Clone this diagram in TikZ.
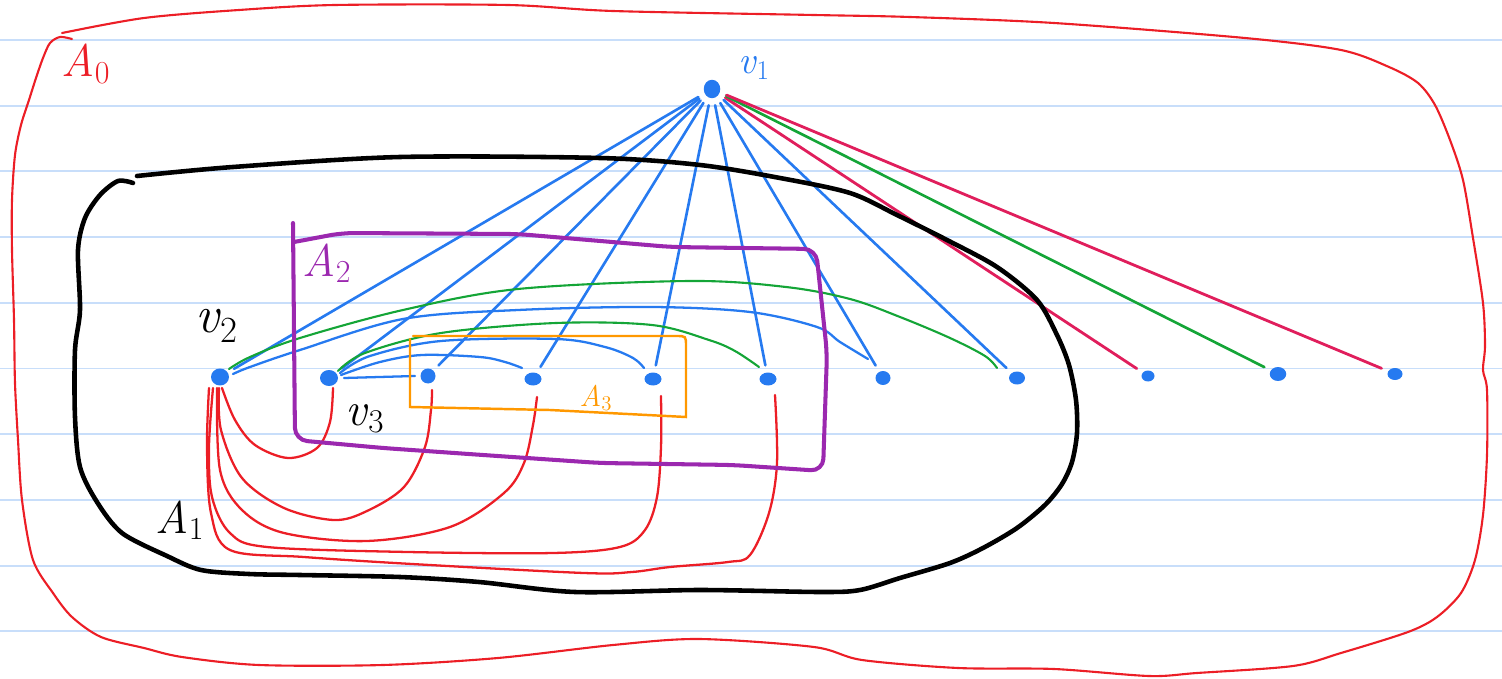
\documentclass[tikz,border=0pt]{standalone}
\usetikzlibrary{shapes.geometric}
\definecolor{ruleblue}{RGB}{200,222,250}
\definecolor{dotblue}{RGB}{38,122,240}
\definecolor{aored}{RGB}{236,30,38}
\definecolor{crim}{RGB}{224,30,92}
\definecolor{grn}{RGB}{20,165,55}
\definecolor{purp}{RGB}{155,40,175}
\definecolor{orng}{RGB}{255,152,0}
\newcommand{\lab}[2]{\textit{#1}\textsubscript{#2}}
\begin{document}
\begin{tikzpicture}[x=0.02cm,y=-0.02cm,
  dot/.style={ellipse, fill=dotblue, inner sep=0pt},
  ruleline/.style={ruleblue, line width=1.1pt},
  bluel/.style={dotblue, line width=1.5pt, line cap=round, shorten <=4pt, shorten >=4pt},
  crimline/.style={crim, line width=1.6pt, line cap=round, shorten <=4pt, shorten >=4pt},
  grnline/.style={grn, line width=1.5pt, line cap=round, shorten <=4pt, shorten >=4pt},
  grnarc/.style={grn, line width=1.2pt, line cap=round},
  bluearc/.style={dotblue, line width=1.3pt, line cap=round},
  redarc/.style={aored, line width=1.3pt, line cap=round},
  outerline/.style={aored, line width=1.2pt, line cap=round, line join=round},
  blackline/.style={black, line width=2.6pt, line cap=round, line join=round},
  purpline/.style={purp, line width=2.3pt, line cap=round, rounded corners=7pt},
  orngline/.style={orng, line width=1.4pt, line cap=round},
  lbl/.style={inner sep=0pt, anchor=center}
]
\useasboundingbox (0,0) rectangle (1502,679);
% ruled paper
\foreach \k in {0,...,9} {
  \draw[ruleline] (0,40+65.7*\k) -- (1502,40+65.7*\k);
}
% vertices
\node[dot, minimum width=0.33cm, minimum height=0.37cm] (v1) at (712,89) {};
\node[dot, minimum width=0.36cm, minimum height=0.34cm] (v2) at (220,377) {};
\node[dot, minimum width=0.36cm, minimum height=0.32cm] (v3) at (329,378) {};
\node[dot, minimum width=0.30cm, minimum height=0.30cm] (n4) at (428,376) {};
\node[dot, minimum width=0.34cm, minimum height=0.26cm] (n5) at (533,379) {};
\node[dot, minimum width=0.34cm, minimum height=0.26cm] (n6) at (653,379) {};
\node[dot, minimum width=0.34cm, minimum height=0.26cm] (n7) at (768,379) {};
\node[dot, minimum width=0.30cm, minimum height=0.28cm] (n8) at (883,378) {};
\node[dot, minimum width=0.32cm, minimum height=0.26cm] (n9) at (1017,378) {};
\node[dot, minimum width=0.26cm, minimum height=0.22cm] (n10) at (1148,376) {};
\node[dot, minimum width=0.33cm, minimum height=0.28cm] (n11) at (1278,374) {};
\node[dot, minimum width=0.30cm, minimum height=0.24cm] (n12) at (1395,374) {};
% edges from v1
\foreach \t in {v2,v3,n4,n5,n6,n7,n8,n9} {
  \draw[bluel] (v1) -- (\t);
}
\draw[crimline] (v1) -- (n10);
\draw[grnline] (v1) -- (n11);
\draw[crimline] (v1) -- (n12);
% arcs above the row
\draw[grnarc] plot[smooth, tension=0.55] coordinates {([shift={(9,-8)}]v2.center) (250,357) (300,338) (403,310) (518,289) (690,281) (786,287) (850,299) (900,317) (950,338) (985,356) ([shift={(-20,-10)}]n9.center)};
\draw[bluearc] plot[smooth, tension=0.55] coordinates {([shift={(13,-3)}]v2.center) (250,367) (300,350) (403,319) (518,310) (652,307) (750,312) (817,327) (840,342) ([shift={(-15,-19)}]n8.center)};
\draw[grnarc] plot[smooth, tension=0.55] coordinates {([shift={(9,-7)}]v3.center) (365,353) (441,333) (556,323) (652,325) (709,340) (735,351) ([shift={(-9,-12)}]n7.center)};
\draw[bluearc] plot[smooth, tension=0.55] coordinates {([shift={(11,-5)}]v3.center) (370,356) (441,341) (556,339) (605,347) (633,358) ([shift={(-9,-11)}]n6.center)};
\draw[bluearc] plot[smooth, tension=0.55] coordinates {([shift={(12,-3)}]v3.center) (380,362) (422,355) (480,357) (505,362) ([shift={(-11,-11)}]n5.center)};
\draw[bluearc] ([shift={(15,0)}]v3.center) -- ([shift={(-13,0)}]n4.center);
% red arcs below the row
\draw[redarc] plot[smooth, tension=0.55] coordinates {([shift={(2,11)}]v2.center) (235,420) (255,445) (288,458) (317,448) (330,422) ([shift={(4,10)}]v3.center)};
\draw[redarc] plot[smooth, tension=0.55] coordinates {([shift={(-1,11)}]v2.center) (221,430) (242,478) (284,508) (334,520) (367,511) (404,487) (425,447) (431,410) ([shift={(4,14)}]n4.center)};
\draw[redarc] plot[smooth, tension=0.55] coordinates {([shift={(-3,11)}]v2.center) (220,470) (242,510) (284,533) (367,541) (450,527) (504,493) (524,463) (533,425) ([shift={(4,18)}]n5.center)};
\draw[redarc] plot[smooth, tension=0.55] coordinates {([shift={(-7,11)}]v2.center) (209,447) (212,497) (230,533) (267,547) (408,552) (553,553) (620,547) (645,530) (657,497) (661,447) ([shift={(8,17)}]n6.center)};
\draw[redarc] plot[smooth, tension=0.55] coordinates {([shift={(-11,11)}]v2.center) (207,447) (211,513) (230,550) (304,557) (412,564) (584,573) (632,572) (670,567) (728,562) (750,555) (769,513) (777,463) ([shift={(7,16)}]n7.center)};
% region A0
\draw[outerline] plot[smooth, tension=0.5] coordinates {(72,39) (60,37) (50,43) (43,58) (36,78) (29,100) (21,125) (15,155) (12,200) (12,250) (14,320) (15,383) (18,440) (22,500) (33,560) (53,593) (72,617) (101,637) (144,648) (182,657) (259,665) (383,665) (498,658) (613,645) (699,639) (814,647) (862,660) (958,668) (1054,669) (1149,676) (1197,673) (1293,666) (1341,653) (1408,632) (1437,617) (1461,593) (1475,560) (1483,515) (1487,455) (1487,390) (1483,370) (1485,346) (1483,303) (1473,238) (1463,180) (1450,140) (1435,105) (1418,83) (1389,67) (1341,50) (1245,38) (1054,23) (910,17) (814,15) (613,11) (508,5) (335,5) (239,10) (144,18) (62,33)};
% region A1
\draw[blackline] plot[smooth, tension=0.5] coordinates {(137,176) (233,167) (400,157) (600,158) (700,165) (780,178) (850,193) (897,215) (947,240) (997,267) (1037,300) (1057,335) (1069,365) (1076,400) (1077,433) (1072,462) (1062,484) (1045,505) (1017,528) (983,548) (950,563) (900,578) (860,590) (820,592) (700,590) (575,592) (479,582) (400,577) (300,575) (249,574) (201,570) (167,556) (122,533) (97,502) (80,467) (75,417) (75,350) (80,310) (78,250) (85,218) (100,195) (118,181) (133,183)};
% region A2
\draw[purpline] (293,223) -- (295,440) -- (383,448) -- (483,455) -- (600,463) -- (733,465) -- (823,471) -- (827,353) -- (816,249) -- (671,247) -- (518,234) -- (342,233) -- (294,242);
% region A3
\draw[orngline] (413,336) -- (676,336) .. controls (686,336) .. (686,346) -- (686,417) -- (550,410) -- (410,407) -- (410,339);
% labels
\node[lbl, text=aored] (lA0) at (86,64) {\fontsize{26}{26}\selectfont \lab{A}{0}};
\node[lbl, text=dotblue] (lv1) at (754,68) {\fontsize{22}{22}\selectfont \lab{v}{1}};
\node[lbl] (lv2) at (217,326) {\fontsize{30}{30}\selectfont \lab{v}{2}};
\node[lbl] (lv3) at (365,419) {\fontsize{27}{27}\selectfont \lab{v}{3}};
\node[lbl] (lA1) at (180,520) {\fontsize{26}{26}\selectfont \lab{A}{1}};
\node[lbl, text=purp] (lA2) at (327,263) {\fontsize{26}{26}\selectfont \lab{A}{2}};
\node[lbl, text=orng] (lA3) at (596,398) {\fontsize{17}{17}\selectfont \lab{A}{3}};
\end{tikzpicture}
\end{document}
